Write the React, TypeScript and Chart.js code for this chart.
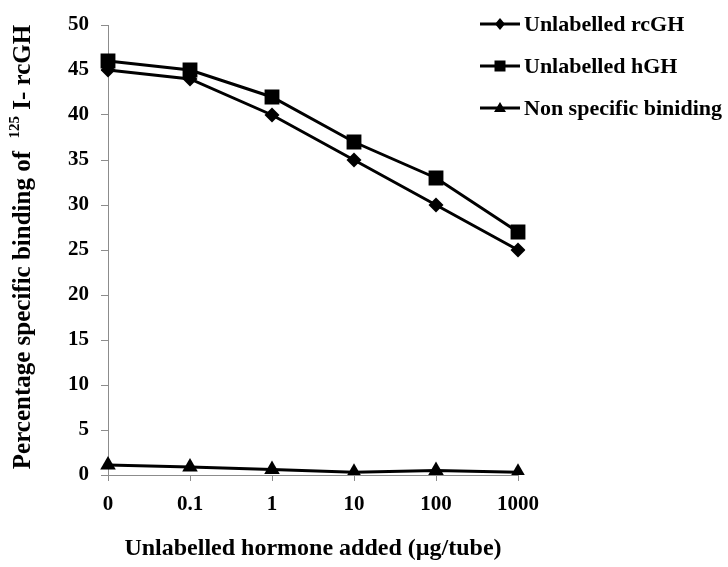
import { useEffect, useRef } from "react";
import { Chart, registerables } from "chart.js";

Chart.register(...registerables);

const doses = ["0", "0.1", "1", "10", "100", "1000"];
const rcGH = [45, 44, 40, 35, 30, 25];
const hGH = [46, 45, 42, 37, 33, 27];
const nonSpecific = [1.1, 0.9, 0.6, 0.3, 0.5, 0.3];
const seriesNames = ["Unlabelled rcGH", "Unlabelled hGH", "Non specific biniding"];
const markers = ["rectRot", "rect", "triangle"] as const;

const FONT = '"Liberation Serif", "Times New Roman", serif';
const AXIS = "#8c8c8c";

// legend marker, drawn by hand
function drawMarker(ctx: CanvasRenderingContext2D, kind: string, x: number, y: number) {
  ctx.beginPath();
  if (kind === "rectRot") {
    ctx.moveTo(x, y - 6);
    ctx.lineTo(x + 5, y);
    ctx.lineTo(x, y + 6);
    ctx.lineTo(x - 5, y);
  } else if (kind === "rect") {
    ctx.rect(x - 5.5, y - 5.5, 11, 11);
  } else {
    ctx.moveTo(x, y - 6);
    ctx.lineTo(x + 6, y + 4);
    ctx.lineTo(x - 6, y + 4);
  }
  ctx.closePath();
  ctx.fill();
}

const textPlugin = {
  id: "textPlugin",
  afterDraw(chart: Chart) {
    const ctx = chart.ctx;
    ctx.save();
    ctx.fillStyle = "#000";
    ctx.strokeStyle = "#000";

    // x title
    ctx.font = `bold 24px ${FONT}`;
    ctx.textAlign = "center";
    ctx.textBaseline = "middle";
    ctx.fillText("Unlabelled hormone added (\u00b5g/tube)", 313, 549);

    // y title with superscript 125
    const part1 = "Percentage specific binding of  ";
    const sup = "125";
    const part3 = " I- rcGH";
    ctx.font = `bold 25px ${FONT}`;
    const w1 = ctx.measureText(part1).width;
    const w3 = ctx.measureText(part3).width;
    ctx.font = `bold 15px ${FONT}`;
    const w2 = ctx.measureText(sup).width;
    const total = w1 + w2 + w3;
    ctx.translate(22, 247);
    ctx.rotate(-Math.PI / 2);
    ctx.textAlign = "left";
    ctx.textBaseline = "alphabetic";
    let x = -total / 2;
    ctx.font = `bold 25px ${FONT}`;
    ctx.fillText(part1, x, 8);
    x += w1;
    ctx.font = `bold 15px ${FONT}`;
    ctx.fillText(sup, x, -3);
    x += w2;
    ctx.font = `bold 25px ${FONT}`;
    ctx.fillText(part3, x, 8);
    ctx.setTransform(1, 0, 0, 1, 0, 0);
    ctx.restore();

    // legend
    ctx.save();
    ctx.font = `bold 22px ${FONT}`;
    ctx.textAlign = "left";
    ctx.textBaseline = "middle";
    seriesNames.forEach((name, i) => {
      const y = 24 + i * 42;
      ctx.lineWidth = 3;
      ctx.beginPath();
      ctx.moveTo(480, y);
      ctx.lineTo(520, y);
      ctx.stroke();
      drawMarker(ctx, markers[i], 500, y);
      ctx.fillText(name, 524, y + 1);
    });
    ctx.restore();
  },
};

export default function App() {
  const canvasRef = useRef<HTMLCanvasElement>(null);

  useEffect(() => {
    document.body.style.margin = "0";
    if (!canvasRef.current) return;

    const sets = [rcGH, hGH, nonSpecific];
    const radii = [7.5, 10.5, 9];

    const chart = new Chart(canvasRef.current, {
      type: "line",
      data: {
        labels: doses,
        datasets: sets.map((values, i) => ({
          label: seriesNames[i],
          data: values,
          borderColor: "#000",
          backgroundColor: "#000",
          borderWidth: 3,
          pointStyle: markers[i],
          pointRadius: radii[i],
          pointBorderWidth: 0,
          pointBackgroundColor: "#000",
          tension: 0,
        })),
      },
      options: {
        animation: false,
        responsive: false,
        devicePixelRatio: 1,
        layout: { padding: { top: 25, right: 210, bottom: 47, left: 0 } },
        plugins: {
          legend: { display: false },
          tooltip: { enabled: false },
        },
        scales: {
          x: {
            type: "category",
            offset: false,
            grid: { drawOnChartArea: false, drawTicks: true, tickLength: 6, color: AXIS },
            border: { color: AXIS, width: 1 },
            ticks: {
              color: "#000",
              font: { family: FONT, size: 21, weight: "bold" },
              padding: 11,
              maxRotation: 0,
              autoSkip: false,
            },
            afterFit(scale: any) {
              scale.height = 45;
            },
          },
          y: {
            min: 0,
            max: 50,
            grid: { drawOnChartArea: false, drawTicks: true, tickLength: 7, color: AXIS },
            border: { color: AXIS, width: 1 },
            ticks: {
              stepSize: 5,
              color: "#000",
              font: { family: FONT, size: 21, weight: "bold" },
              padding: 12,
            },
            afterFit(scale: any) {
              scale.width = 108;
            },
          },
        },
      },
      plugins: [textPlugin],
    });

    return () => {
      chart.destroy();
    };
  }, []);

  return (
    <div style={{ width: 728, height: 567, background: "#fff" }}>
      <canvas ref={canvasRef} width={728} height={567} />
    </div>
  );
}
